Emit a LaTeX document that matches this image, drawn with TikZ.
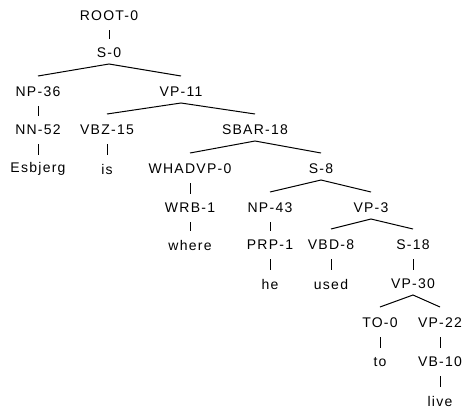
\documentclass[tikz,border=0pt]{standalone}
\usepackage{fontspec}
\setmainfont{Liberation Sans}[LetterSpace=9]
\usetikzlibrary{calc}
\tikzset{
  lbl/.style={inner sep=0pt, font=\fontsize{14}{15}\selectfont, text=black},
  edge/.style={draw=black, line width=1pt},
}
\newcommand{\unary}[2]{\draw[edge] ($(#1)+(0,14)$) -- ($(#2)+(0,-14)$);}
\newcommand{\branch}[3]{\draw[edge] ($(#2)+(0,-16)$) -- ($(#1)+(0,11)$) -- ($(#3)+(0,-16)$);}
\begin{document}
\begin{tikzpicture}[x=1pt,y=-1pt]
\useasboundingbox (0,0) rectangle (464,408);
% rows
\def\ra{16}\def\rb{53}\def\rc{92}\def\rd{130}\def\re{169}\def\rf{208}
\def\rg{245}\def\rh{284}\def\ri{323}\def\rj{362}\def\rk{401}
\node[lbl] (ROOT) at (109,\ra) {ROOT-0};
\node[lbl] (S0) at (109,\rb) {S-0};
\node[lbl] (NP36) at (38,\rc) {NP-36};
\node[lbl] (VP11) at (181,\rc) {VP-11};
\node[lbl] (NN52) at (38,\rd) {NN-52};
\node[lbl] (VBZ15) at (107,\rd) {VBZ-15};
\node[lbl] (SBAR18) at (255,\rd) {SBAR-18};
\node[lbl] (Esbjerg) at (38,\re) {Esbjerg};
\node[lbl] (is) at (107,\re) {is};
\node[lbl] (WHADVP0) at (190,\re) {WHADVP-0};
\node[lbl] (S8) at (321,\re) {S-8};
\node[lbl] (WRB1) at (190,\rf) {WRB-1};
\node[lbl] (NP43) at (270,\rf) {NP-43};
\node[lbl] (VP3) at (371,\rf) {VP-3};
\node[lbl] (where) at (190,\rg) {where};
\node[lbl] (PRP1) at (270,\rg) {PRP-1};
\node[lbl] (VBD8) at (331,\rg) {VBD-8};
\node[lbl] (S18) at (413,\rg) {S-18};
\node[lbl] (he) at (270,\rh) {he};
\node[lbl] (used) at (331,\rh) {used};
\node[lbl] (VP30) at (413,\rh) {VP-30};
\node[lbl] (TO0) at (380,\ri) {TO-0};
\node[lbl] (VP22) at (440,\ri) {VP-22};
\node[lbl] (to) at (380,\rj) {to};
\node[lbl] (VB10) at (440,\rj) {VB-10};
\node[lbl] (live) at (440,\rk) {live};
% edges
\unary{ROOT}{S0}
\branch{S0}{NP36}{VP11}
\unary{NP36}{NN52}
\unary{NN52}{Esbjerg}
\branch{VP11}{VBZ15}{SBAR18}
\unary{VBZ15}{is}
\branch{SBAR18}{WHADVP0}{S8}
\unary{WHADVP0}{WRB1}
\unary{WRB1}{where}
\branch{S8}{NP43}{VP3}
\unary{NP43}{PRP1}
\unary{PRP1}{he}
\branch{VP3}{VBD8}{S18}
\unary{VBD8}{used}
\unary{S18}{VP30}
\branch{VP30}{TO0}{VP22}
\unary{TO0}{to}
\unary{VP22}{VB10}
\unary{VB10}{live}
\end{tikzpicture}
\end{document}
